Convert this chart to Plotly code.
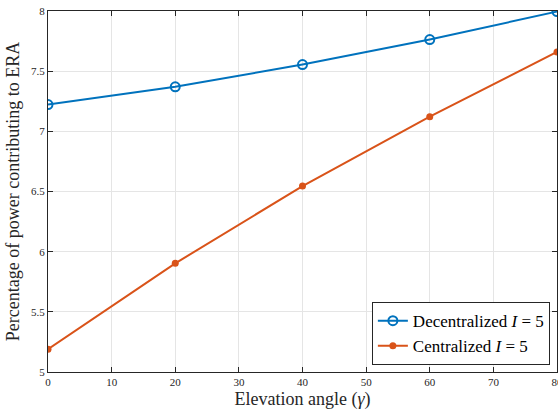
import plotly.graph_objects as go

elevation = [0, 20, 40, 60, 80]
decentralized = [7.222, 7.37, 7.555, 7.763, 7.995]
centralized = [5.19, 5.903, 6.545, 7.122, 7.66]
x_ticks = [0, 10, 20, 30, 40, 50, 60, 70, 80]
y_ticks = [5, 5.5, 6, 6.5, 7, 7.5, 8]

blue = "#0072BD"
orange = "#D95319"
font_family = "Liberation Serif, DejaVu Serif, serif"

fig = go.Figure()
fig.add_trace(go.Scatter(
    x=elevation, y=decentralized, mode="lines+markers",
    name="Decentralized <i>I</i> = 5",
    line=dict(color=blue, width=2),
    marker=dict(symbol="circle-open", size=9, color=blue, line=dict(width=2, color=blue)),
))
fig.add_trace(go.Scatter(
    x=elevation, y=centralized, mode="lines+markers",
    name="Centralized <i>I</i> = 5",
    line=dict(color=orange, width=2),
    marker=dict(symbol="circle", size=7, color=orange),
))

axis_common = dict(
    showline=True, linecolor="#262626", linewidth=1, mirror="ticks",
    ticks="inside", ticklen=5, tickcolor="#262626",
    showgrid=True, gridcolor="#E5E5E5", gridwidth=1,
    zeroline=False, automargin=False,
    ticklabeloverflow="allow",
    tickfont=dict(family=font_family, size=11, color="#262626"),
)

fig.update_xaxes(
    range=[0, 80], tickvals=x_ticks, ticktext=[str(v) for v in x_ticks],
    title=dict(text="Elevation angle (<i>γ</i>)", font=dict(family=font_family, size=18, color="#262626"), standoff=5),
    **axis_common,
)
fig.update_yaxes(
    range=[5, 8], tickvals=y_ticks, ticktext=[("%g" % v) for v in y_ticks],
    title=dict(text="Percentage of power contributing to ERA", font=dict(family=font_family, size=18, color="#262626"), standoff=6),
    **axis_common,
)

fig.update_layout(
    width=558, height=413,
    margin=dict(l=48, r=1, t=11, b=41),
    paper_bgcolor="white", plot_bgcolor="white",
    showlegend=True,
    legend=dict(
        x=0.986, y=0.019, xanchor="right", yanchor="bottom",
        bgcolor="white", bordercolor="#262626", borderwidth=1,
        font=dict(family=font_family, size=17, color="#000000"),
        tracegroupgap=0, itemwidth=30,
    ),
)

fig.write_html("out.html")
